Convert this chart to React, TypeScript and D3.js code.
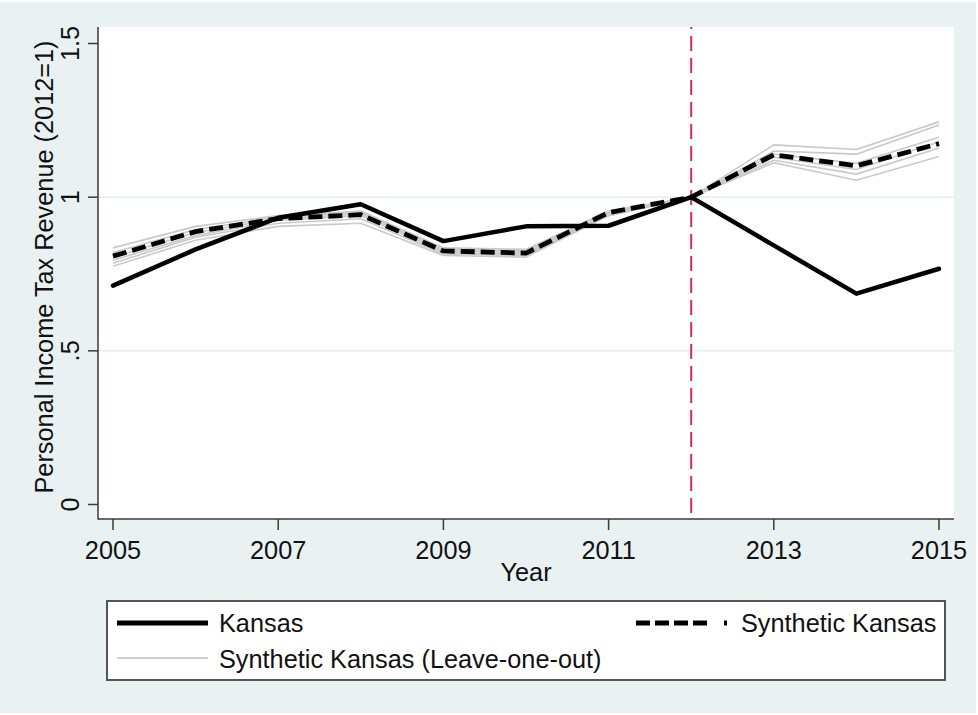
import React from "react";
import * as d3 from "d3";

const years = [2005, 2006, 2007, 2008, 2009, 2010, 2011, 2012, 2013, 2014, 2015];
const kansas = [0.712, 0.83, 0.933, 0.977, 0.857, 0.905, 0.907, 1.0, 0.843, 0.686, 0.767];
const synthetic = [0.808, 0.888, 0.93, 0.943, 0.825, 0.818, 0.95, 1.0, 1.138, 1.102, 1.174];
const leaveOneOut1 = [0.835, 0.905, 0.94, 0.955, 0.835, 0.83, 0.955, 1.0, 1.17, 1.155, 1.245];
const leaveOneOut2 = [0.82, 0.895, 0.935, 0.95, 0.83, 0.825, 0.95, 1.0, 1.15, 1.14, 1.235];
const leaveOneOut3 = [0.805, 0.885, 0.93, 0.945, 0.825, 0.82, 0.945, 1.0, 1.14, 1.11, 1.195];
const leaveOneOut4 = [0.795, 0.875, 0.925, 0.94, 0.82, 0.815, 0.945, 1.0, 1.13, 1.09, 1.18];
const leaveOneOut5 = [0.785, 0.87, 0.915, 0.93, 0.815, 0.81, 0.94, 1.0, 1.12, 1.075, 1.16];
const leaveOneOut6 = [0.775, 0.86, 0.905, 0.915, 0.81, 0.805, 0.94, 1.0, 1.112, 1.055, 1.132];
const leaveOneOut = [leaveOneOut1, leaveOneOut2, leaveOneOut3, leaveOneOut4, leaveOneOut5, leaveOneOut6];

const xTicks = [2005, 2007, 2009, 2011, 2013, 2015];
const yTicks = [0, 0.5, 1, 1.5];
const yTickLabels = ["0", ".5", "1", "1.5"];
const gridValues = [0.5, 1];
const treatmentYear = 2012;

const xTitle = "Year";
const yTitle = "Personal Income Tax Revenue (2012=1)";
const legendLabels = ["Kansas", "Synthetic Kansas", "Synthetic Kansas (Leave-one-out)"];

const W = 978;
const H = 715;
const plot = { left: 98, right: 954, top: 27, bottom: 519 };
const FONT = "'Liberation Sans', Arial, Helvetica, sans-serif";
const FS = 25.3;

export default function App() {
  const x = d3.scaleLinear().domain([2005, 2015]).range([113, 939]);
  const y = d3.scaleLinear().domain([0, 1.5]).range([504.5, 43.5]);
  const line = d3
    .line<number>()
    .x((_, i) => x(years[i]))
    .y((d) => y(d));

  const axisColor = "#3a3a3a";

  return (
    <svg
      width={W}
      height={H}
      style={{ position: "absolute", left: 0, top: 0 }}
      xmlns="http://www.w3.org/2000/svg"
    >
      <rect x={0} y={0} width={W} height={H} fill="#ffffff" />
      <rect x={0} y={2} width={W - 2} height={H - 4} fill="#eaf1f3" />
      <rect
        x={plot.left}
        y={plot.top}
        width={plot.right - plot.left}
        height={plot.bottom - plot.top}
        fill="#ffffff"
      />
      {gridValues.map((g) => (
        <line
          key={g}
          x1={plot.left}
          x2={plot.right}
          y1={y(g)}
          y2={y(g)}
          stroke="#e6eef0"
          strokeWidth={1.5}
        />
      ))}

      {/* treatment line */}
      <line
        x1={x(treatmentYear)}
        x2={x(treatmentYear)}
        y1={plot.top}
        y2={plot.bottom}
        stroke="#d42c5a"
        strokeWidth={2}
        strokeDasharray="15 7"
        strokeDashoffset={13}
      />

      {/* leave-one-out lines */}
      {leaveOneOut.map((s, i) => (
        <path
          key={i}
          d={line(s) || ""}
          fill="none"
          stroke="#c9c9c9"
          strokeWidth={1.6}
          strokeLinejoin="round"
        />
      ))}

      {/* synthetic */}
      <path
        d={line(synthetic) || ""}
        fill="none"
        stroke="#000"
        strokeWidth={4.8}
        strokeDasharray="14 6"
        strokeLinejoin="round"
      />
      {/* Kansas */}
      <path
        d={line(kansas) || ""}
        fill="none"
        stroke="#000"
        strokeWidth={4.5}
        strokeLinejoin="round"
        strokeLinecap="round"
      />

      {/* axes */}
      <line x1={plot.left} x2={plot.left} y1={plot.top} y2={plot.bottom + 0.5} stroke={axisColor} strokeWidth={1.5} />
      <line x1={plot.left} x2={plot.right} y1={plot.bottom} y2={plot.bottom} stroke={axisColor} strokeWidth={1.5} />

      {yTicks.map((t, i) => (
        <g key={t}>
          <line x1={plot.left - 10} x2={plot.left} y1={y(t)} y2={y(t)} stroke={axisColor} strokeWidth={1.5} />
          <text
            transform={`translate(79,${y(t)}) rotate(-90)`}
            textAnchor="middle"
            fontFamily={FONT}
            fontSize={FS}
            fill="#111"
          >
            {yTickLabels[i]}
          </text>
        </g>
      ))}

      {xTicks.map((t) => (
        <g key={t}>
          <line x1={x(t)} x2={x(t)} y1={plot.bottom} y2={plot.bottom + 11} stroke={axisColor} strokeWidth={1.5} />
          <text x={x(t)} y={558.5} textAnchor="middle" fontFamily={FONT} fontSize={FS} fill="#111">
            {t}
          </text>
        </g>
      ))}

      <text x={(plot.left + plot.right) / 2} y={581} textAnchor="middle" fontFamily={FONT} fontSize={FS} fill="#111">
        {xTitle}
      </text>
      <text
        transform={`translate(53,267) rotate(-90)`}
        textAnchor="middle"
        fontFamily={FONT}
        fontSize={FS}
        fill="#111"
      >
        {yTitle}
      </text>

      {/* legend */}
      <rect x={107} y={601} width={838} height={79} fill="#ffffff" stroke="#555" strokeWidth={2} />
      <line x1={117} x2={208} y1={623} y2={623} stroke="#000" strokeWidth={4.8} />
      <text x={219} y={632} fontFamily={FONT} fontSize={FS} fill="#111">
        {legendLabels[0]}
      </text>
      <line
        x1={636}
        x2={727}
        y1={623}
        y2={623}
        stroke="#000"
        strokeWidth={4.8}
        strokeDasharray="14 5 14 5 14 5 14 17 5"
      />
      <text x={741} y={632} fontFamily={FONT} fontSize={FS} fill="#111">
        {legendLabels[1]}
      </text>
      <line x1={117} x2={208} y1={658} y2={658} stroke="#cfcfcf" strokeWidth={2} />
      <text x={219} y={667.5} fontFamily={FONT} fontSize={FS} fill="#111">
        {legendLabels[2]}
      </text>
    </svg>
  );
}
